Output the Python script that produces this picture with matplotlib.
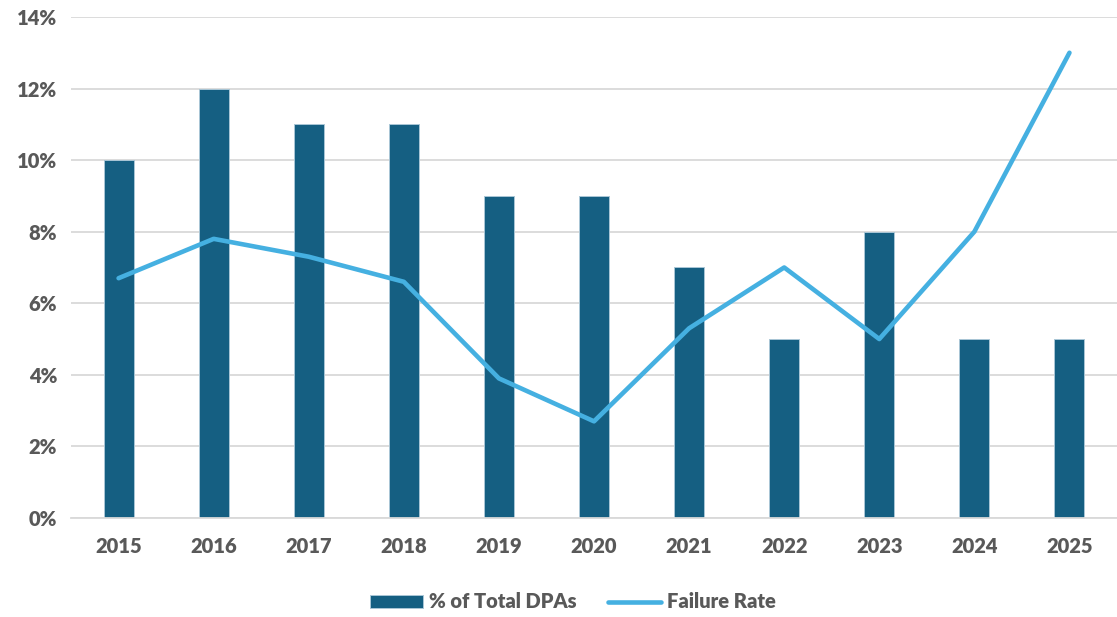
import matplotlib.pyplot as plt
import numpy as np
from matplotlib.ticker import FuncFormatter

years = ['2015', '2016', '2017', '2018', '2019', '2020', '2021', '2022', '2023', '2024', '2025']
pct_total_dpas = [10, 12, 11, 11, 9, 9, 7, 5, 8, 5, 5]
failure_rate = [6.7, 7.8, 7.3, 6.6, 3.9, 2.7, 5.3, 7.0, 5.0, 8.0, 13.0]

BAR_COLOR = '#155F82'
LINE_COLOR = '#45B0E1'
GRID_COLOR = '#D9D9D9'
TEXT_COLOR = '#595959'

plt.rcParams['font.family'] = ['Lato', 'DejaVu Sans']
plt.rcParams['font.weight'] = 'heavy'

fig = plt.figure(figsize=(11.17, 6.17), dpi=100)
ax = fig.add_axes([0.0636, 0.1605, 0.9364, 0.812])

x = np.arange(len(years))
bars = ax.bar(x, pct_total_dpas, width=0.315, color=BAR_COLOR, edgecolor='#A9C6D6',
              linewidth=0.7, label='% of Total DPAs', zorder=2)
line, = ax.plot(x, failure_rate, color=LINE_COLOR, linewidth=3.3, solid_capstyle='round',
                label='Failure Rate', zorder=3)

ax.set_xlim(-0.5, len(years) - 0.5)
ax.set_ylim(0, 14)
ax.set_yticks(np.arange(0, 15, 2))
ax.yaxis.set_major_formatter(FuncFormatter(lambda v, _: f'{v:.0f}%'))
ax.set_xticks(x)
ax.set_xticklabels(years)

ax.grid(axis='y', color=GRID_COLOR, linewidth=1.3, zorder=0)
ax.set_axisbelow(True)
for side in ['top', 'right', 'left']:
    ax.spines[side].set_visible(False)
ax.spines['bottom'].set_color(GRID_COLOR)
ax.spines['bottom'].set_linewidth(1.3)
ax.tick_params(length=0, labelsize=14.5, labelcolor=TEXT_COLOR)
ax.tick_params(axis='x', pad=14)
ax.tick_params(axis='y', pad=10)

fig.legend(handles=[bars, line], loc='center', bbox_to_anchor=(573 / 1117, 1 - 602 / 617),
           ncol=2, frameon=False, fontsize=14.5, labelcolor=TEXT_COLOR, handlelength=2.6,
           handleheight=0.6, columnspacing=1.6, handletextpad=0.3)

fig.savefig('out.png', dpi=100)
